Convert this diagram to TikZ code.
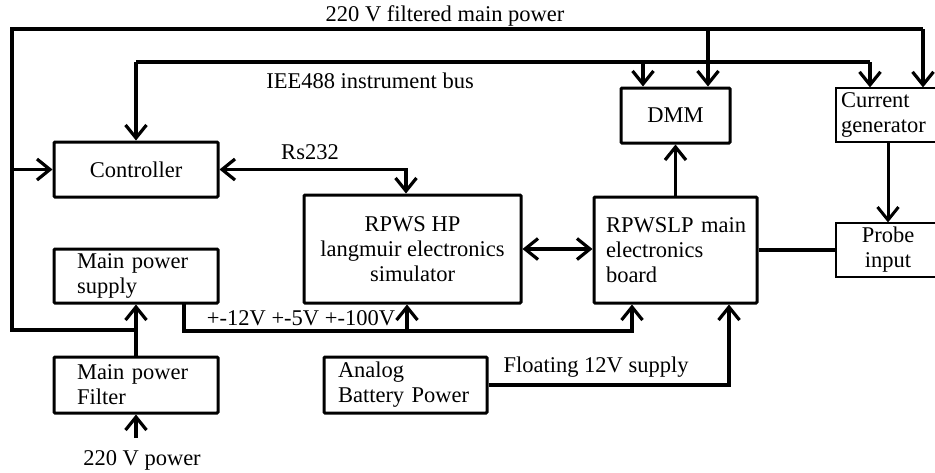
\documentclass[tikz,border=0pt]{standalone}
\usepackage{fontspec}
\setmainfont{Liberation Serif}
\usetikzlibrary{arrows.meta}

\tikzset{
  txt/.style={font=\fontsize{22.5}{25}\selectfont, inner sep=0pt},
  box/.style={txt, draw, line width=3pt, rounded corners=1pt},
  thinbox/.style={txt, draw, line width=1.2pt},
  wire/.style={line width=3.2pt},
  arr/.style={wire, -{Straight Barb[length=13pt,width=21pt]}},
  arrs/.style={wire, {Straight Barb[length=13pt,width=21pt]}-{Straight Barb[length=13pt,width=21pt]}},
}

\begin{document}
\begin{tikzpicture}[x=1pt, y=-1pt]
\useasboundingbox (0,0) rectangle (935,472);

% ---- blocks ----
\node[box, minimum width=164pt, minimum height=55pt, align=center] (ctrl) at (136,169.5) {Controller};
\node[box, minimum width=217pt, minimum height=108pt, align=center] (rpws) at (412.5,249)
  {RPWS HP\\langmuir electronics\\simulator};
\node[box, minimum height=106pt, text width=139pt, inner xsep=12pt, align=left] (lp) at (675.5,250)
  {\mbox{RPWSLP main}\\electronics\\board};
\node[box, minimum width=109pt, minimum height=55pt, align=center] (dmm) at (675.5,115.5) {DMM};
\node[thinbox, minimum height=54pt, text width=94pt, inner xsep=5pt, align=left] (cur) at (888,115)
  {Current\\generator};
\node[thinbox, minimum width=104pt, minimum height=54pt, align=center] (probe) at (888,250)
  {Probe\\input};
\node[box, minimum height=54pt, text width=118pt, inner xsep=23pt, align=left] (mps) at (136,276)
  {Main power\\supply};
\node[box, minimum height=56pt, text width=118pt, inner xsep=23pt, align=left] (mpf) at (136,385)
  {Main power\\Filter};
\node[box, minimum height=56pt, text width=135pt, inner xsep=14pt, align=left] (abp) at (405.5,385)
  {Analog\\Battery Power};

% ---- routing points ----
\coordinate (pj) at (136,330);
\coordinate (pl) at (12,330);
\coordinate (tl) at (12,29);
\coordinate (tr) at (923,29);
\coordinate (tdmm) at (708,29);
\coordinate (bl) at (136,62);
\coordinate (br) at (870,62);
\coordinate (bdmm) at (643,62);
\coordinate (vs) at (184,303);
\coordinate (vb) at (184,331);
\coordinate (vr) at (632,331);
\coordinate (vh) at (407,331);
\coordinate (fr) at (729,385);
\coordinate (in) at (136,438);

% ---- 220 V filtered main power ----
\draw[wire] (pj) -- (pl) -- (tl) -- (tr);
\draw[arr] (tr) -- (tr |- cur.north);
\draw[arr] (tdmm) -- (tdmm |- dmm.north);
\draw[arr] (tl |- ctrl.west) -- (ctrl.west);

% ---- IEE488 bus ----
\draw[wire] (bl) -- (br);
\draw[arr] (bl) -- (ctrl.north);
\draw[arr] (bdmm) -- (bdmm |- dmm.north);
\draw[arr] (br) -- (br |- cur.north);

% ---- Rs232 ----
\draw[arrs] (ctrl.east) -| (rpws.north -| 406,0);

% ---- board links ----
\draw[arrs] (rpws.east) -- (rpws.east -| lp.west);
\draw[arr] (lp.north) -- (dmm.south);
\draw[wire] (lp.east) -- (probe.west);
\draw[arr, line width=3pt] (cur.south) -- (probe.north);

% ---- supplies ----
\draw[arr] (mpf.north) -- (mps.south);
\draw[arr] (in) -- (mpf.south);
\draw[wire] (vs) -- (vb) -- (vh);
\draw[arr] (vh) -- (vr) -- (vr |- lp.south);
\draw[arr] (vh) -- (vh |- rpws.south);
\draw[arr] (abp.east) -- (fr) -- (fr |- lp.south);

% ---- labels ----
\node[txt] (lmain) at (445,16) {220 V filtered main power};
\node[txt] (lbus) at (370,81) {IEE488 instrument bus};
\node[txt] (lrs) at (310,152) {Rs232};
\node[txt] (lvolt) at (301,318) {+-12V +-5V +-100V};
\node[txt] (lfloat) at (596,367) {Floating 12V supply};
\node[txt] (lin) at (142,460) {220 V power};
\end{tikzpicture}
\end{document}
